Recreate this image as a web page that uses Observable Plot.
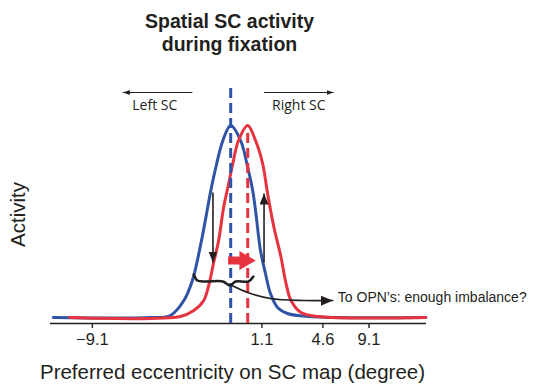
<!DOCTYPE html>
<html>
<head>
<meta charset="utf-8">
<script src="https://cdn.jsdelivr.net/npm/d3@7"></script>
<script src="https://cdn.jsdelivr.net/npm/@observablehq/plot@0.6"></script>
<style>
  html, body { margin: 0; padding: 0; background: white; }
</style>
</head>
<body>
<div id="chart"></div>
<script>
// Position on SC map (mm, 0 = fovea) and relative activity
const blueX = [-2.50, -1.13, -0.85, -0.66, -0.54, -0.42, -0.35, -0.28, -0.21, -0.11, 0.00, 0.14, 0.24, 0.31, 0.35, 0.42, 0.49, 0.56, 0.66, 0.80, 1.09, 2.75];
const blueY = [0.030, 0.030, 0.040, 0.115, 0.215, 0.400, 0.530, 0.665, 0.780, 0.915, 0.990, 0.915, 0.780, 0.665, 0.565, 0.365, 0.250, 0.150, 0.080, 0.050, 0.035, 0.030];
const redX = [-2.27, -0.71, -0.52, -0.38, -0.31, -0.24, -0.17, -0.10, -0.04, 0.03, 0.11, 0.24, 0.35, 0.45, 0.52, 0.61, 0.71, 0.78, 0.85, 0.99, 1.23, 2.75];
const redY = [0.030, 0.035, 0.065, 0.115, 0.190, 0.305, 0.415, 0.580, 0.680, 0.800, 0.915, 0.990, 0.915, 0.800, 0.650, 0.480, 0.330, 0.200, 0.115, 0.055, 0.035, 0.030];

// Peak positions (dashed lines)
const bluePeak = 0.00, bluePeakTop = 1.19;
const redPeak = 0.24, redPeakTop = 0.955;

// Axis ticks: SC-map position (mm) and the eccentricity label (deg)
const tickPos = [-1.95, 0.44, 1.30, 1.95];
const tickLabels = ["\u22129.1", "1.1", "4.6", "9.1"];

// Text
const titleLines = ["Spatial SC activity", "during fixation"];
const xLabel = "Preferred eccentricity on SC map (degree)";
const yLabel = "Activity";
const leftLabel = "Left SC", rightLabel = "Right SC";
const noteLabel = "To OPN\u2019s: enough imbalance?";

// Annotation anchors (data units)
const leftArrow = {x1: -0.54, x2: -1.52, y: 1.155, tx: -1.07, ty: 1.09};
const rightArrow = {x1: 0.47, x2: 1.45, y: 1.155, tx: 0.96, ty: 1.09};
const downArrow = {x: -0.25, y1: 0.655, y2: 0.305};
const upArrow = {x: 0.47, y1: 0.305, y2: 0.65};
const shiftArrow = {x1: -0.03, x2: 0.16, head: 0.20, y: 0.315};
const braceX = [-0.52, -0.47, -0.35, -0.11, -0.01, 0.07, 0.25, 0.32];
const braceY = [0.245, 0.215, 0.21, 0.21, 0.19, 0.21, 0.21, 0.235];
const noteX = [-0.01, 0.24, 0.56, 1.03, 1.44];
const noteY = [0.195, 0.155, 0.125, 0.115, 0.115];
const noteText = {x: 1.51, y: 0.13};
const yLabelPos = 0.545;

const BLUE = "#2f54a6", RED = "#e6333f", INK = "#231f20";

const blue = blueX.map((x, i) => ({x, y: blueY[i]}));
const red = redX.map((x, i) => ({x, y: redY[i]}));
const brace = braceX.map((x, i) => ({x, y: braceY[i]}));
const note = noteX.map((x, i) => ({x, y: noteY[i]}));

// filled triangular arrowhead marker
function filledArrow(len, wid) {
  return (color) => {
    const m = d3.create("svg:marker")
      .attr("viewBox", `${-len} ${-wid / 2} ${len} ${wid}`)
      .attr("markerWidth", len).attr("markerHeight", wid)
      .attr("markerUnits", "userSpaceOnUse")
      .attr("orient", "auto")
      .attr("refX", 0).attr("refY", 0)
      .attr("fill", color).attr("stroke", "none");
    m.append("path").attr("d", `M${-len},${-wid / 2}L0,0L${-len},${wid / 2}Z`);
    return m.node();
  };
}

const plot = Plot.plot({
  width: 535,
  height: 385,
  marginLeft: 50,
  marginRight: 109,
  marginTop: 63,
  marginBottom: 62,
  x: {domain: [-2.54, 2.76], axis: null},
  y: {domain: [0, 1.3], axis: null},
  style: {fontFamily: "'Liberation Sans', Arial, sans-serif", fontSize: "16.5px", color: INK, background: "white"},
  marks: [
    Plot.ruleY([0], {stroke: INK, strokeWidth: 1.6}),
    Plot.axisX({ticks: tickPos, tickFormat: (d, i) => tickLabels[i], tickSize: 5, tickPadding: 5, fontSize: 16.5, stroke: INK, strokeWidth: 1.4, fill: INK, label: null}),
    Plot.line(blue, {x: "x", y: "y", stroke: BLUE, strokeWidth: 3, curve: "catmull-rom"}),
    Plot.line(red, {x: "x", y: "y", stroke: RED, strokeWidth: 3, curve: "catmull-rom"}),
    Plot.ruleX([bluePeak], {y1: 0, y2: bluePeakTop, stroke: BLUE, strokeWidth: 3, strokeDasharray: "10,5"}),
    Plot.ruleX([redPeak], {y1: 0, y2: redPeakTop, stroke: RED, strokeWidth: 3, strokeDasharray: "10,5"}),
    // Left / Right SC
    Plot.link([leftArrow, rightArrow], {x1: "x1", x2: "x2", y1: "y", y2: "y", stroke: INK, strokeWidth: 1, markerEnd: filledArrow(7, 5)}),
    Plot.text([leftArrow, rightArrow], {x: "tx", y: "ty", text: (d, i) => [leftLabel, rightLabel][i], fontFamily: "'Open Sans', sans-serif", fontSize: 14, fill: INK}),
    // vertical arrows
    Plot.link([downArrow, upArrow], {x1: "x", x2: "x", y1: "y1", y2: "y2", stroke: INK, strokeWidth: 1.6, markerEnd: filledArrow(11, 9)}),
    // red shift arrow
    Plot.ruleY([shiftArrow], {x1: "x1", x2: "x2", y: "y", stroke: RED, strokeWidth: 8}),
    Plot.dot([shiftArrow], {x: "head", y: "y", symbol: "triangle", rotate: 90, r: 7, fill: RED, stroke: "none"}),
    // brace
    Plot.line(brace, {x: "x", y: "y", stroke: INK, strokeWidth: 2.5, curve: "catmull-rom"}),
    Plot.line(note, {x: "x", y: "y", stroke: INK, strokeWidth: 1.6, curve: "catmull-rom", markerEnd: filledArrow(12, 10)}),
    Plot.text([noteText], {x: "x", y: "y", text: () => noteLabel, textAnchor: "start", fontSize: 14, fill: INK}),
    // titles & axis labels
    Plot.text([titleLines[0]], {frameAnchor: "top", dx: -9, dy: -49, fontWeight: "bold", fontSize: 19.5, fill: INK}),
    Plot.text([titleLines[1]], {frameAnchor: "top", dx: -9, dy: -26, fontWeight: "bold", fontSize: 19.5, fill: INK}),
    Plot.text([xLabel], {frameAnchor: "bottom", dx: -6, dy: 55, fontSize: 20.5, fill: INK}),
    Plot.text([yLabel], {y: () => yLabelPos, frameAnchor: "left", textAnchor: "middle", dx: -32, rotate: -90, fontSize: 20.5, fill: INK})
  ]
});
document.getElementById("chart").appendChild(plot);
</script>
</body>
</html>
